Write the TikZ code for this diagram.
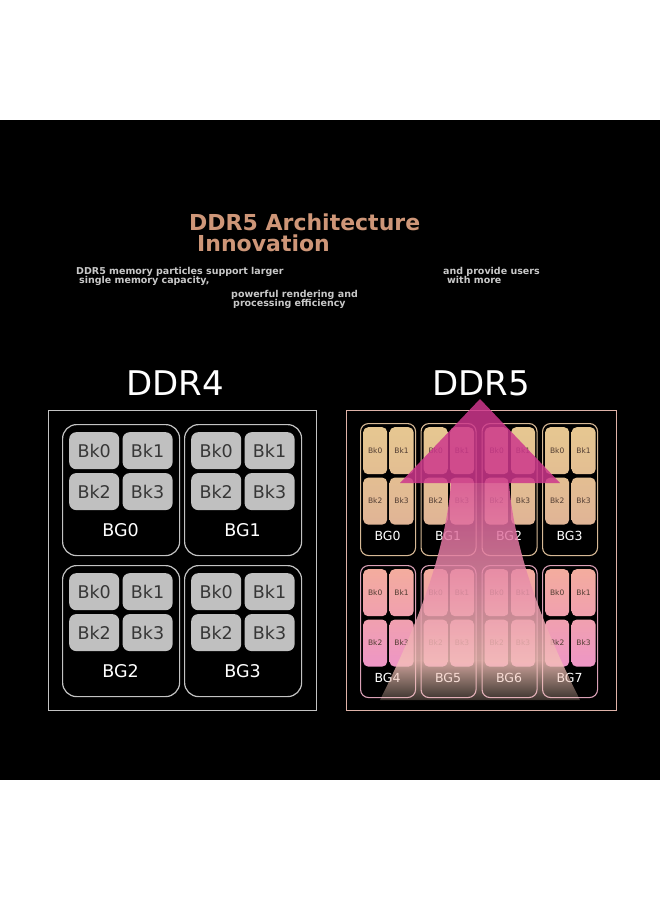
\documentclass[tikz,border=0pt]{standalone}
\usepackage{fontspec}
\setmainfont{DejaVu Sans}
\usetikzlibrary{positioning, fadings}
\definecolor{titletan}{RGB}{206,150,120}
\definecolor{subgray}{RGB}{200,200,200}
\definecolor{oldline}{RGB}{195,195,195}
\definecolor{oldcell}{RGB}{192,192,192}
\definecolor{oldtext}{RGB}{55,55,55}
\definecolor{tanline}{RGB}{215,185,150}
\definecolor{pinkline}{RGB}{218,160,182}
\definecolor{frameline}{RGB}{222,178,168}
\definecolor{tantop}{RGB}{230,199,145}
\definecolor{tanmid}{RGB}{227,190,146}
\definecolor{tanbot}{RGB}{224,180,150}
\definecolor{pinktop}{RGB}{243,172,158}
\definecolor{pinkmid}{RGB}{240,160,175}
\definecolor{pinkbot}{RGB}{238,150,198}
\definecolor{celltext}{RGB}{80,60,50}
\definecolor{arrowhead}{RGB}{205,55,140}
\definecolor{shafttop}{RGB}{218,85,152}
\definecolor{shaftmid}{RGB}{243,185,172}
\definecolor{shaftbot}{RGB}{248,212,190}
\begin{tikzfadingfrompicture}[name=shaftfade]
    \fill[transparent!15] (-1,-0.58) rectangle (1,1);
    \shade[top color=transparent!15, bottom color=transparent!100] (-1,-1) rectangle (1,-0.56);
\end{tikzfadingfrompicture}
\tikzset{
    titletext/.style={text=titletan, inner sep=0pt, anchor=base west,
        font=\bfseries\fontsize{22}{24}\selectfont},
    subtext/.style={text=subgray, inner sep=0pt, anchor=base west,
        font=\bfseries\fontsize{9.5}{11}\selectfont},
    heading/.style={text=white, inner sep=0pt, anchor=base west,
        font=\fontsize{34}{40}\selectfont},
    oldframe/.style={draw=oldline, line width=1.3pt, anchor=north west,
        minimum width=268pt, minimum height=300pt},
    oldbg/.style={draw=oldline, line width=1.2pt, rounded corners=14pt, anchor=north west,
        minimum width=117pt, minimum height=131pt},
    oldbk/.style={fill=oldcell, rounded corners=7pt, inner sep=0pt,
        minimum width=50pt, minimum height=37pt, text=oldtext,
        font=\fontsize{17.5}{20}\selectfont},
    oldlabel/.style={text=white, inner sep=0pt, anchor=base,
        font=\fontsize{17.5}{20}\selectfont},
    newframe/.style={draw=frameline, line width=1.3pt, anchor=north west,
        minimum width=270pt, minimum height=300pt},
    newbg/.style={draw=#1line, line width=1.1pt, rounded corners=8pt, anchor=north west,
        minimum width=55pt, minimum height=132pt},
    newbk/.style={rounded corners=5pt, inner sep=0pt,
        minimum width=24pt, minimum height=47pt, text=celltext,
        font=\fontsize{7.5}{8}\selectfont},
    newup/.style={newbk, top color=#1top, bottom color=#1mid},
    newdn/.style={newbk, top color=#1mid, bottom color=#1bot},
    newlabel/.style={text=white, inner sep=0pt, anchor=base,
        font=\fontsize{12.5}{14}\selectfont}
}
\begin{document}
\begin{tikzpicture}[x=1pt, y=-1pt, node distance=3pt]
\fill[white] (0,0) rectangle (660,900);
\fill[black] (0,120) rectangle (660,780);
\useasboundingbox (0,0) rectangle (660,900);

\node[titletext] (title1) at (189,230.5) {DDR5 Architecture};
\node[titletext] (title2) at (197,251) {Innovation};
\node[subtext] (sub1) at (76,274) {DDR5 memory particles support larger};
\node[subtext] (sub2) at (79,283) {single memory capacity,};
\node[subtext] (sub3) at (231,297) {powerful rendering and};
\node[subtext] (sub4) at (233,306) {processing efficiency};
\node[subtext] (sub5) at (443,274) {and provide users};
\node[subtext] (sub6) at (447,283) {with more};

\node[heading] (ddr4) at (126,395) {DDR4};
\node[heading] (ddr5) at (432,395) {DDR5};

\node[oldframe] (oldbox) at (48,410) {};
\foreach \g/\x/\y in {0/62/424, 1/184/424, 2/62/565, 3/184/565} {
    \node[oldbg] (obg\g) at (\x,\y) {};
    \node[oldbk, anchor=north west] (obk\g a) at (\x+7,\y+8) {Bk0};
    \node[oldbk, right=of obk\g a] (obk\g b) {Bk1};
    \node[oldbk, below=3.5pt of obk\g a] (obk\g c) {Bk2};
    \node[oldbk, right=of obk\g c] (obk\g d) {Bk3};
    \node[oldlabel] (olab\g) at (\x+58.5,\y+112) {BG\g};
}

\node[newframe] (newbox) at (346,410) {};
\foreach \g/\x/\y/\c in {0/360/423/tan, 1/420.5/423/tan, 2/481.5/423/tan, 3/542/423/tan,
                         4/360/565/pink, 5/420.5/565/pink, 6/481.5/565/pink, 7/542/565/pink} {
    \node[newbg=\c] (nbg\g) at (\x,\y) {};
    \node[newup=\c, anchor=north west] (nbk\g a) at (\x+3,\y+4) {Bk0};
    \node[newup=\c, right=2pt of nbk\g a] (nbk\g b) {Bk1};
    \node[newdn=\c, below=of nbk\g a] (nbk\g c) {Bk2};
    \node[newdn=\c, right=2pt of nbk\g c] (nbk\g d) {Bk3};
    \node[newlabel] (nlab\g) at (\x+27.5,\y+117) {BG\g};
}

\fill[arrowhead, fill opacity=0.85] (400,483) -- (480,399) -- (560,483) -- cycle;
\shade[top color=shafttop, middle color=shaftmid, bottom color=shaftbot,
       path fading=shaftfade, fit fading=true]
    (451,483) .. controls (445,560) and (410,640) .. (380,700) -- (580,700)
    .. controls (550,640) and (515,560) .. (509,483) -- cycle;
\end{tikzpicture}
\end{document}
